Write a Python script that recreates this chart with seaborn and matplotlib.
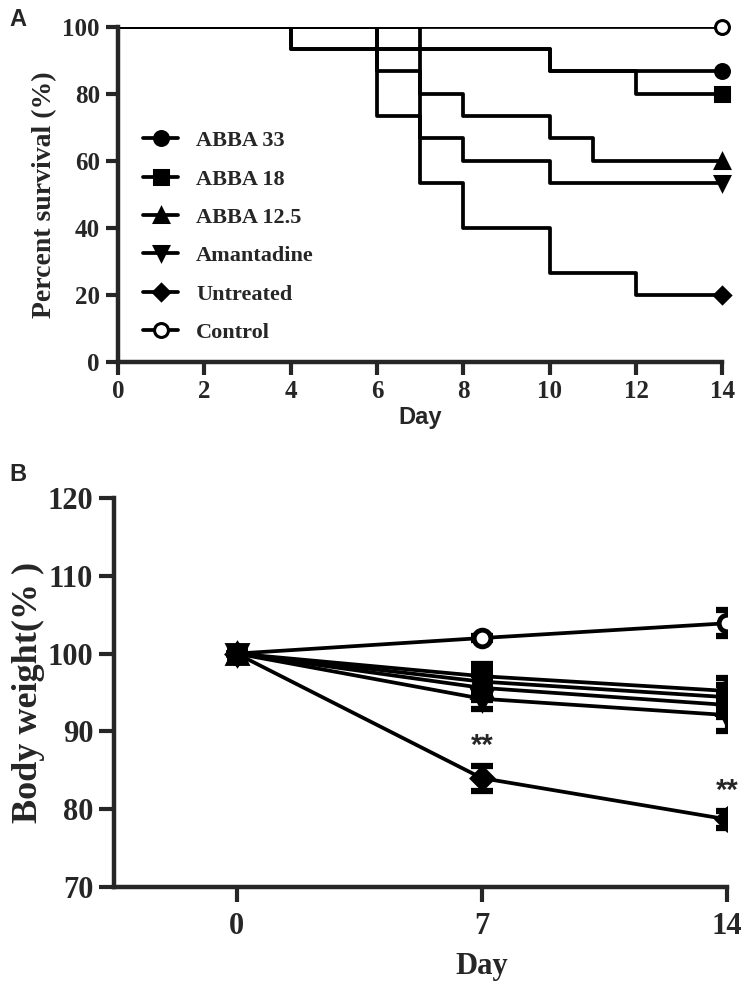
import numpy as np
import pandas as pd
import seaborn as sns
import matplotlib.pyplot as plt
from matplotlib.lines import Line2D

sns.set_theme(style="ticks")
plt.rcParams["font.family"] = ["Liberation Serif", "DejaVu Serif"]
plt.rcParams["font.weight"] = "bold"

# Panel A - survival (Kaplan-Meier steps)
groups = ["ABBA 33", "ABBA 18", "ABBA 12.5", "Amantadine", "Untreated", "Control"]
surv_days = {
    "ABBA 33": [0, 4, 10, 14],
    "ABBA 18": [0, 4, 10, 12, 14],
    "ABBA 12.5": [0, 7, 8, 10, 11, 14],
    "Amantadine": [0, 6, 7, 8, 10, 14],
    "Untreated": [0, 6, 7, 8, 10, 12, 14],
    "Control": [0, 14],
}
surv_pct = {
    "ABBA 33": [100, 93.3, 86.7, 86.7],
    "ABBA 18": [100, 93.3, 86.7, 80, 80],
    "ABBA 12.5": [100, 80, 73.3, 66.7, 60, 60],
    "Amantadine": [100, 86.7, 66.7, 60, 53.3, 53.3],
    "Untreated": [100, 73.3, 53.3, 40, 26.7, 20, 20],
    "Control": [100, 100],
}

# Panel B - body weight
bw_days = [0, 7, 14]
bw_mean = {
    "ABBA 33": [100, 97.1, 95.2],
    "ABBA 18": [100, 96.4, 94.4],
    "ABBA 12.5": [100, 95.6, 93.4],
    "Amantadine": [100, 94.2, 92.1],
    "Untreated": [100, 84.0, 78.7],
    "Control": [100, 102.0, 103.9],
}
bw_err = {
    "ABBA 33": [0, 1.6, 1.7],
    "ABBA 18": [0, 1.5, 1.6],
    "ABBA 12.5": [0, 1.6, 1.5],
    "Amantadine": [0, 1.3, 2.1],
    "Untreated": [0, 1.6, 1.1],
    "Control": [0, 0.3, 1.7],
}

markers = {"ABBA 33": "o", "ABBA 18": "s", "ABBA 12.5": "^",
           "Amantadine": "v", "Untreated": "D", "Control": "o"}

surv_df = pd.concat([pd.DataFrame({"group": g, "day": surv_days[g], "pct": surv_pct[g]})
                     for g in groups], ignore_index=True)
bw_df = pd.concat([pd.DataFrame({"group": g, "day": bw_days, "bw": bw_mean[g], "err": bw_err[g]})
                   for g in groups], ignore_index=True)

fig = plt.figure(figsize=(7.47, 9.9), dpi=100)
ax1 = fig.add_axes([0.158, 0.634, 0.809, 0.339])
ax2 = fig.add_axes([0.1526, 0.104, 0.8206, 0.393])

LW = 2.7
black = {g: "black" for g in groups}


def msize(m, base):
    if m == "D":
        return base * 0.85
    if m in ("^", "v"):
        return base * 1.05
    return base


# --- A
sns.lineplot(data=surv_df, x="day", y="pct", hue="group", palette=black,
             estimator=None, sort=False, drawstyle="steps-post",
             linewidth=LW, legend=False, ax=ax1)
for g in groups:
    last = surv_df[surv_df["group"] == g].iloc[-1]
    fc = "white" if g == "Control" else "black"
    ax1.plot(last["day"], last["pct"], marker=markers[g], ms=msize(markers[g], 10),
             mfc=fc, mec="black", mew=2.2, color="black", clip_on=False, zorder=5)

ax1.set_xlim(0, 14)
ax1.set_ylim(0, 100)
ax1.set_xticks(range(0, 15, 2))
ax1.set_yticks(range(0, 101, 20))
ax1.set_xlabel("Day", fontsize=17, fontweight="bold", family="Liberation Sans", labelpad=2)
ax1.set_ylabel("Percent survival (%)", fontsize=20, fontweight="bold", labelpad=4)

handles = [Line2D([], [], color="black", lw=LW, marker=markers[g], ms=msize(markers[g], 10),
                  mfc="white" if g == "Control" else "black", mec="black", mew=2.2)
           for g in groups]
ax1.legend(handles, groups, loc="upper left", bbox_to_anchor=(0.008, 0.75), frameon=False,
           handlelength=1.6, handletextpad=0.8, labelspacing=0.8,
           prop={"family": "Liberation Serif", "weight": "bold", "size": 16})

# --- B
sns.lineplot(data=bw_df, x="day", y="bw", hue="group", palette=black,
             estimator=None, sort=False, linewidth=LW, legend=False, ax=ax2)
for g in groups[::-1]:
    sub = bw_df[bw_df["group"] == g]
    fc = "white" if g == "Control" else "black"
    ax2.errorbar(sub["day"], sub["bw"], yerr=sub["err"], fmt="none", ecolor="black",
                 elinewidth=3, capsize=8, capthick=4.5, zorder=4)
    ax2.plot(sub["day"], sub["bw"], ls="none", marker=markers[g], ms=msize(markers[g], 12),
             mfc=fc, mec="black", mew=3.5, zorder=5)

ax2.text(7, 86.3, "**", ha="center", va="bottom", fontsize=21, fontweight="bold",
         family="Liberation Sans")
ax2.text(14, 80.6, "**", ha="center", va="bottom", fontsize=21, fontweight="bold",
         family="Liberation Sans")

ax2.set_xlim(-3.5, 14)
ax2.set_ylim(70, 120)
ax2.set_xticks(bw_days)
ax2.set_yticks(range(70, 121, 10))
ax2.set_xlabel("Day", fontsize=22, fontweight="bold", labelpad=8, x=0.6)
ax2.set_ylabel("Body weight(% )", fontsize=26, fontweight="bold", labelpad=2)

for ax, lsz, tl in ((ax1, 18, 9), (ax2, 22, 11)):
    sns.despine(ax=ax)
    for s in ("left", "bottom"):
        ax.spines[s].set_linewidth(3.2)
    ax.tick_params(width=3, length=tl, labelsize=lsz, pad=4)
    for lab in ax.get_xticklabels() + ax.get_yticklabels():
        lab.set_fontweight("bold")
        lab.set_family("Liberation Serif")
ax2.tick_params(axis="x", pad=7)

fig.text(0.012, 0.992, "A", fontsize=17, fontweight="bold", family="Liberation Sans", va="top")
fig.text(0.012, 0.532, "B", fontsize=17, fontweight="bold", family="Liberation Sans", va="top")

fig.savefig("out.png", dpi=100)
